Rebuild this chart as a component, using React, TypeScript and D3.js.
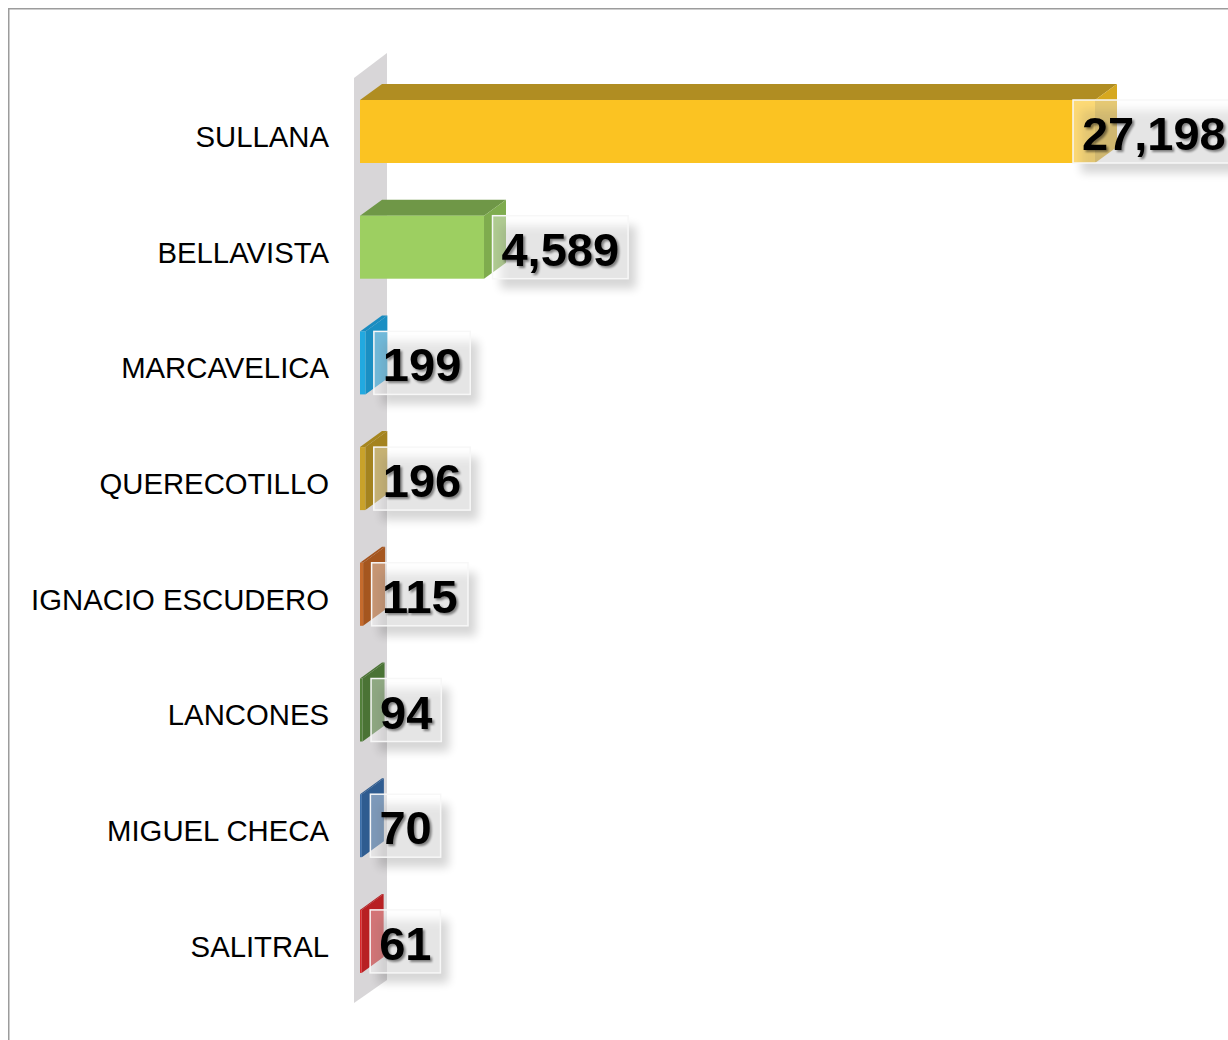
import React from "react";
import * as d3 from "d3";

const categories = ["SULLANA", "BELLAVISTA", "MARCAVELICA", "QUERECOTILLO", "IGNACIO ESCUDERO", "LANCONES", "MIGUEL CHECA", "SALITRAL"];
const values = [27198, 4589, 199, 196, 115, 94, 70, 61];
const frontColors = ["#FBC322", "#9DCF61", "#22A9E0", "#C9A22A", "#C56B2D", "#52803B", "#3C6FA9", "#D9272A"];
const topColors = ["#B08D22", "#6F9747", "#1B8CC0", "#A6861F", "#A4541F", "#4C7436", "#2F5B8E", "#B41F22"];
const sideColors = ["#D6A81F", "#7FAC4E", "#1A8FC3", "#A4831F", "#A5561F", "#4A7335", "#2F5C90", "#B82023"];

const W = 1228;
const H = 1040;
const DX = 22;
const DY = 16;
const FS_VAL = 47;

function textWidth(s: string): number {
  let w = 0;
  for (const ch of s) w += ch === "," ? 0.278 : 0.556;
  return w * FS_VAL;
}

export default function App() {
  const x = d3.scaleLinear().domain([0, 27198]).range([360, 1095]);
  const y = d3
    .scaleBand<string>()
    .domain(categories)
    .range([100, 100 + 115.7 * (categories.length - 0.4555)])
    .paddingInner(0.4555)
    .paddingOuter(0);
  const bh = y.bandwidth();
  const fmt = d3.format(",");
  const x0 = x(0);

  const wallL = x0 - 6;
  const wallR = x0 + 27;
  const wallTop = (y(categories[0]) as number) - 22;
  const wallBot = (y(categories[categories.length - 1]) as number) + bh + 30;

  return (
    <svg width={W} height={H} style={{ position: "absolute", left: 0, top: 0 }} fontFamily="Arial, 'Liberation Sans', sans-serif">
      <defs>
        <filter id="boxShadow" x="-20%" y="-30%" width="150%" height="180%">
          <feGaussianBlur stdDeviation="5" />
        </filter>
        <filter id="txtShadow" x="-10%" y="-10%" width="130%" height="140%">
          <feDropShadow dx="2" dy="2" stdDeviation="1.3" floodColor="#000" floodOpacity="0.45" />
        </filter>
      </defs>
      <rect x={0} y={0} width={W} height={H} fill="#fff" />
      <rect x={8.75} y={8.75} width={W + 40} height={H + 40} fill="none" stroke="#9c9c9c" strokeWidth={1.5} />

      {/* side wall */}
      <polygon
        points={`${wallL},${wallTop} ${wallR},${wallTop - 25} ${wallR},${wallBot - 23} ${wallL},${wallBot}`}
        fill="#d8d6d8"
      />

      {/* bars */}
      {categories.map((c, i) => {
        const yt = y(c) as number;
        const x1 = x(values[i]);
        return (
          <g key={c}>
            <polygon points={`${x0},${yt} ${x0 + DX},${yt - DY} ${x1 + DX},${yt - DY} ${x1},${yt}`} fill={topColors[i]} />
            <polygon points={`${x1},${yt} ${x1 + DX},${yt - DY} ${x1 + DX},${yt + bh - DY} ${x1},${yt + bh}`} fill={sideColors[i]} />
            <rect x={x0} y={yt} width={x1 - x0} height={bh} fill={frontColors[i]} />
          </g>
        );
      })}

      {/* category labels */}
      {categories.map((c) => (
        <text key={c} x={329} y={(y(c) as number) + bh / 2 + 15.5} textAnchor="end" fontSize={29.3} fill="#000">
          {c}
        </text>
      ))}

      {/* value labels */}
      {categories.map((c, i) => {
        const yt = y(c) as number;
        const x1 = x(values[i]);
        const label = fmt(values[i]);
        const bw = textWidth(label) + 18;
        const bx = x1 + 8.5 + bw > W + 10 ? x1 - DX : x1 + 8.5;
        return (
          <g key={c}>
            <rect x={bx + 8} y={yt + 10} width={bw} height={bh} fill="#000" opacity={0.16} filter="url(#boxShadow)" />
            <rect x={bx} y={yt} width={bw} height={bh} fill="rgba(255,255,255,0.38)" stroke="#f7f7f7" strokeWidth={1.5} />
            <text
              x={bx + bw / 2}
              y={yt + bh / 2 + 18.6}
              textAnchor="middle"
              fontSize={FS_VAL}
              fontWeight="bold"
              fill="#000"
              filter="url(#txtShadow)"
            >
              {label}
            </text>
          </g>
        );
      })}
    </svg>
  );
}
